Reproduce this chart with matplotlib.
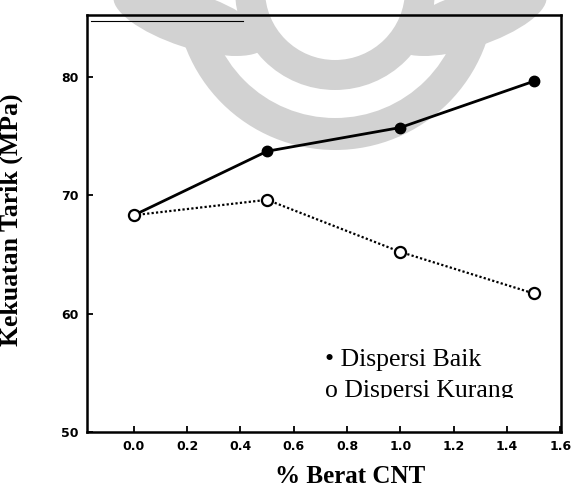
import matplotlib
matplotlib.use('Agg')
import matplotlib.pyplot as plt
from matplotlib.patches import Wedge, Ellipse
from matplotlib.lines import Line2D
from matplotlib.transforms import Affine2D, Bbox, TransformedBbox

# tensile strength vs CNT content
cnt = [0.0, 0.5, 1.0, 1.5]
baik = [68.3, 73.7, 75.7, 79.6]
kurang = [68.3, 69.6, 65.2, 61.7]

xticks = [0.0, 0.2, 0.4, 0.6, 0.8, 1.0, 1.2, 1.4, 1.6]
xticklabels = ['0.0', '0.2', '0.4', '0.6', '0.8', '1.0', '1.2', '1.4', '1.6']
yticks = [50, 60, 70, 80]
yticklabels = ['50', '60', '70', '80']

W, H = 571, 492
fig = plt.figure(figsize=(W / 100, H / 100), dpi=100)
fig.patch.set_facecolor('white')

# pixel coordinates, origin top-left
px = Affine2D().scale(1 / W, -1 / H).translate(0, 1) + fig.transFigure

# faint logo watermark behind the plot
grey = '#d2d2d2'
for p in [
    Wedge((335, -10), 160, 0, 180, width=32),
    Wedge((335, -10), 100, 0, 180, width=30),
    Ellipse((190, 20), 160, 55, angle=18),
    Ellipse((470, 20), 160, 55, angle=-18),
]:
    p.set_transform(px)
    p.set_facecolor(grey)
    p.set_edgecolor('none')
    p.set_zorder(-5)
    fig.add_artist(p)

ax = fig.add_axes([87 / W, 1 - 432 / H, 474 / W, 417 / H])
ax.set_facecolor('none')

ax.plot(cnt, baik, color='black', lw=2.0,
        marker='o', ms=7.5, mfc='black', mec='black', zorder=2)
ax.plot(cnt, kurang, color='black', lw=1.6, ls=(0, (1, 1)),
        marker='o', ms=8, mfc='white', mec='black', mew=1.6, zorder=3)

ax.set_xlim(-0.176, 1.603)
ax.set_ylim(50, 85.2)
ax.set_xticks(xticks)
ax.set_xticklabels(xticklabels)
ax.set_yticks(yticks)
ax.set_yticklabels(yticklabels)

tick_font = dict(family=['Liberation Sans Narrow', 'DejaVu Sans'], weight='bold', size=9)
for lab in ax.get_xticklabels() + ax.get_yticklabels():
    lab.set(**tick_font)
ax.tick_params(direction='in', length=4, width=1.3, pad=6)

for s in ax.spines.values():
    s.set_linewidth(1.8)

serif = ['Liberation Serif', 'DejaVu Serif']
ax.set_xlabel('% Berat CNT', family=serif, weight='bold', size=18)
ax.xaxis.set_label_coords(0.555, -0.078)
ax.set_ylabel('Kekuatan Tarik (MPa)', family=serif, weight='bold', size=18.5)
ax.yaxis.set_label_coords(-0.135, 0.51)

ax.text(0.717, 55.58, '\u2022 Dispersi Baik', family=serif, size=18.5, va='baseline')
t2 = ax.text(0.717, 52.96, 'o Dispersi Kurang', family=serif, size=18.5, va='baseline')
t2.set_clip_box(TransformedBbox(Bbox([[-0.2, 52.87], [1.6, 85]]), ax.transData))
t2.set_clip_on(True)

# thin inner frame line near the top-left corner
fig.add_artist(Line2D([91, 243], [20.5, 20.5], transform=px, color='black', lw=0.8))

fig.savefig('out.png', dpi=100)
